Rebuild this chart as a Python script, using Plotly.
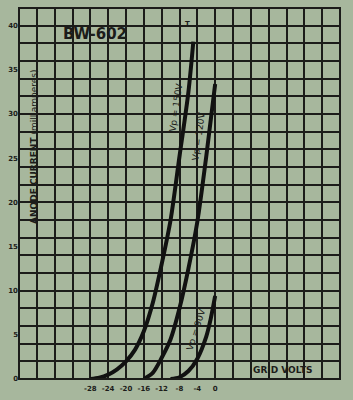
import plotly.graph_objects as go

# Data (grid volts vs anode current, mA)
grid_v_150 = [-28, -26, -24, -22, -20, -18, -16, -14, -12, -10, -8, -6, -4.9]
ia_150 = [0, 0.15, 0.5, 1.1, 2.0, 3.3, 5.4, 8.6, 13, 18, 25.2, 32.5, 38.2]

grid_v_120 = [-16, -14, -12, -10, -8, -6, -4, -2, 0]
ia_120 = [0, 0.7, 2.4, 4.5, 8.0, 12.5, 17.8, 25.2, 33.4]

grid_v_90 = [-10, -8, -6, -4, -2, -1, 0]
ia_90 = [0, 0.2, 0.9, 2.3, 4.8, 6.8, 9.4]

x_tick_vals = [-28, -24, -20, -16, -12, -8, -4, 0]
x_tick_text = ["-28", "-24", "-20", "-16", "-12", "-8", "-4", "0"]
y_tick_vals = [0, 5, 10, 15, 20, 25, 30, 35, 40]
y_tick_text = ["0", "5", "10", "15", "20", "25", "30", "35", "40"]

curve_labels = ["Vp = 150V", "Vp = 120V", "Vp = 90V"]

bg = "#a7b79d"
ink = "#1c1c1a"

fig = go.Figure()
for xs, ys in [(grid_v_150, ia_150), (grid_v_120, ia_120), (grid_v_90, ia_90)]:
    fig.add_trace(go.Scatter(x=xs, y=ys, mode="lines",
                             line=dict(color="#111111", width=4, shape="spline", smoothing=0.8),
                             hoverinfo="skip", showlegend=False))

fig.update_xaxes(range=[-44, 28], tickmode="array", tickvals=x_tick_vals,
                 ticktext=["<b>%s</b>" % t for t in x_tick_text],
                 showgrid=False, zeroline=False, showline=False,
                 ticks="", ticklabelstandoff=4,
                 tickfont=dict(family="DejaVu Sans", size=7, color=ink),
                 minor=dict(showgrid=True, tickmode="linear", tick0=-44, dtick=4,
                            gridcolor=ink, gridwidth=1.5),
                 fixedrange=True)
fig.update_yaxes(range=[0, 42], tickmode="array", tickvals=y_tick_vals,
                 ticktext=["<b>%s</b>" % t for t in y_tick_text],
                 showgrid=False, zeroline=False, showline=False,
                 ticks="", tickfont=dict(family="DejaVu Sans", size=7, color=ink),
                 minor=dict(showgrid=True, tickmode="linear", tick0=0, dtick=2,
                            gridcolor=ink, gridwidth=1.5),
                 fixedrange=True)

fig.add_shape(type="rect", xref="paper", yref="paper", x0=0, y0=0, x1=1, y1=1,
              line=dict(color=ink, width=2))

annotations = [
    dict(x=-27, y=39.1, text="<b>BW-602</b>", showarrow=False,
         font=dict(family="DejaVu Sans", size=15, color=ink)),
    dict(x=-40.8, y=26.3, text="<b>ANODE CURRENT</b> (milliamperes)", showarrow=False,
         textangle=-90, font=dict(family="DejaVu Sans", size=9, color=ink)),
    dict(x=15.2, y=1.0, text="<b>GRID VOLTS</b>", showarrow=False,
         font=dict(family="DejaVu Sans", size=9, color=ink)),
    dict(x=-6.3, y=40.2, text="<b>T</b>", showarrow=False,
         font=dict(family="DejaVu Sans", size=7, color=ink)),
    dict(x=-8.8, y=30.8, text=curve_labels[0], showarrow=False, textangle=-82,
         font=dict(family="DejaVu Sans", size=9, color=ink)),
    dict(x=-3.7, y=27.5, text=curve_labels[1], showarrow=False, textangle=-82,
         font=dict(family="DejaVu Sans", size=9, color=ink)),
    dict(x=-4.4, y=5.6, text=curve_labels[2], showarrow=False, textangle=-72,
         font=dict(family="DejaVu Sans", size=9, color=ink)),
]
fig.update_layout(
    width=353, height=400,
    margin=dict(l=19, r=13, t=8, b=21),
    paper_bgcolor=bg, plot_bgcolor=bg,
    annotations=annotations,
    showlegend=False,
)

fig.write_html("out.html", config={"displayModeBar": False})
